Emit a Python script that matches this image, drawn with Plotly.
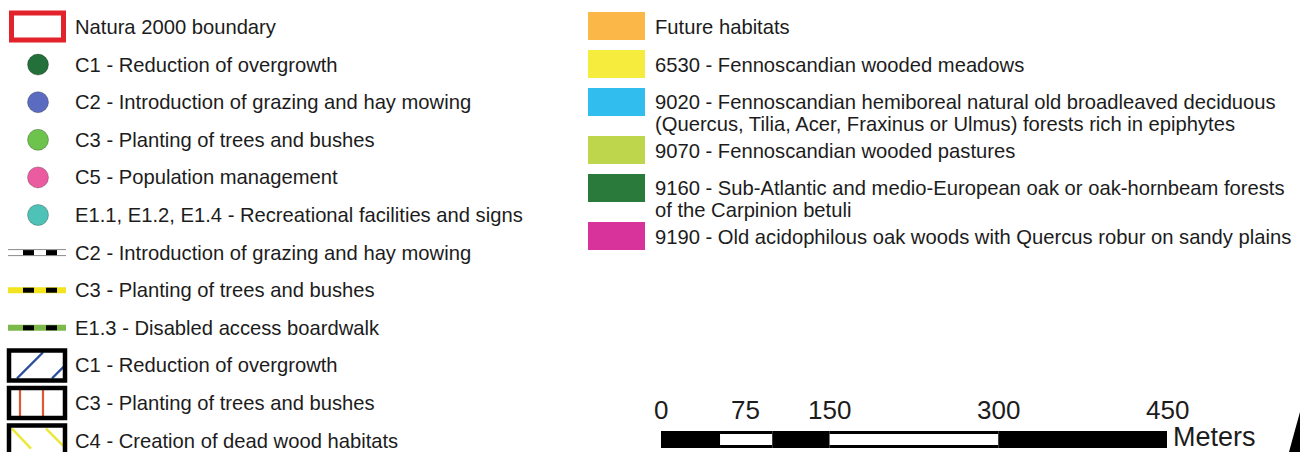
import plotly.graph_objects as go

# ---------------- data ----------------
boundary_label = "Natura 2000 boundary"
boundary_color = "#e2232b"

point_labels = ["C1 - Reduction of overgrowth",
                "C2 - Introduction of grazing and hay mowing",
                "C3 - Planting of trees and bushes",
                "C5 - Population management",
                "E1.1, E1.2, E1.4 - Recreational facilities and signs"]
point_colors = ["#23703a", "#5b6cc0", "#6ec34c", "#ea5ba0", "#4fc2b7"]

line_labels = ["C2 - Introduction of grazing and hay mowing",
               "C3 - Planting of trees and bushes",
               "E1.3 - Disabled access boardwalk"]
line_colors = ["#ffffff", "#f2e51f", "#7cb84a"]

area_labels = ["C1 - Reduction of overgrowth",
               "C3 - Planting of trees and bushes",
               "C4 - Creation of dead wood habitats"]
area_hatch_colors = ["#2d4f9e", "#e2572f", "#ece83a"]

habitat_labels = ["Future habitats",
                  "6530 - Fennoscandian wooded meadows",
                  "9020 - Fennoscandian hemiboreal natural old broadleaved deciduous<br>(Quercus, Tilia, Acer, Fraxinus or Ulmus) forests rich in epiphytes",
                  "9070 - Fennoscandian wooded pastures",
                  "9160 - Sub-Atlantic and medio-European oak or oak-hornbeam forests<br>of the Carpinion betuli",
                  "9190 - Old acidophilous oak woods with Quercus robur on sandy plains"]
habitat_colors = ["#fbb748", "#f6ec3e", "#31bdee", "#bdd64b", "#2a7a3b", "#d8339b"]

scale_ticks = [0, 75, 150, 300, 450]
scale_breaks = [0, 52.5, 99, 150, 300, 450]
scale_unit = "Meters"

# ---------------- layout helpers ----------------
FONT = "Liberation Sans, Arial, Helvetica, sans-serif"
TXT = "#1c1c1c"
FS = 20.2
W, H = 1300, 452
SCALE_X0, SCALE_X450 = 661, 1167  # pixel positions of 0 m and 450 m

fig = go.Figure()
shapes = []
annotations = []

def text(x, y, s, size=FS, xref="x", xanchor="left"):
    annotations.append(dict(x=x, y=y, xref=xref, yref="y", text=s, showarrow=False,
                            xanchor=xanchor, yanchor="middle", borderpad=0,
                            font=dict(family=FONT, size=size, color=TXT)))

# left column rows
row0, dy = 27.0, 37.6
text_x = 74
r = 0
# boundary
cy = row0 + dy * r
shapes.append(dict(type="rect", x0=11.5, x1=63.5, y0=cy - 14, y1=cy + 13,
                   line=dict(color=boundary_color, width=5), fillcolor="white"))
text(text_x, cy, boundary_label)
r += 1

# point symbols
px, py = [], []
for lab, col in zip(point_labels, point_colors):
    cy = row0 + dy * r
    px.append(38); py.append(cy)
    text(text_x, cy, lab)
    r += 1
fig.add_trace(go.Scatter(x=px, y=py, mode="markers", hoverinfo="skip",
                         marker=dict(size=21, color=point_colors,
                                     line=dict(width=1, color="rgba(0,0,0,0.25)"))))

# line symbols
for i, (lab, col) in enumerate(zip(line_labels, line_colors)):
    cy = row0 + dy * r
    if i == 0:
        shapes.append(dict(type="rect", x0=8, x1=66, y0=cy - 3, y1=cy + 3,
                           fillcolor="white", line=dict(width=0)))
        for off in (-3, 3):
            shapes.append(dict(type="line", x0=8, x1=66, y0=cy + off, y1=cy + off,
                               line=dict(color="#8a8a8a", width=1)))
    else:
        shapes.append(dict(type="rect", x0=8, x1=66, y0=cy - 3, y1=cy + 3,
                           fillcolor=col, line=dict(width=0)))
    for d0 in (23, 46):
        shapes.append(dict(type="rect", x0=d0, x1=d0 + 11, y0=cy - 2.5, y1=cy + 2.5,
                           fillcolor="black", line=dict(width=0)))
    text(text_x, cy, lab)
    r += 1

# hatched area symbols
for i, (lab, col) in enumerate(zip(area_labels, area_hatch_colors)):
    cy = row0 + dy * r
    x0, x1, y0, y1 = 9, 65, cy - 15, cy + 15
    shapes.append(dict(type="rect", x0=x0, x1=x1, y0=y0, y1=y1,
                       fillcolor="white", line=dict(width=0)))
    if i == 0:
        segs = [((17, cy + 13), (43, cy - 13)), ((52, cy + 13), (64, cy + 1))]
        w = 2.2
    elif i == 1:
        segs = [((20, y0), (20, y1)), ((43, y0), (43, y1))]
        w = 2.2
    else:
        segs = [((12, cy - 12), (31, cy + 8)), ((46, cy - 12), (64, cy + 6))]
        w = 2.5
    for (a, b) in segs:
        shapes.append(dict(type="line", x0=a[0], y0=a[1], x1=b[0], y1=b[1],
                           line=dict(color=col, width=w)))
    shapes.append(dict(type="rect", x0=x0, x1=x1, y0=y0, y1=y1,
                       line=dict(color="black", width=4.5)))
    text(text_x, cy, lab)
    r += 1

# right column habitats
top = 12
for lab, col in zip(habitat_labels, habitat_colors):
    lines = lab.split("<br>")
    shapes.append(dict(type="rect", x0=588, x1=645, y0=top, y1=top + 28,
                       fillcolor=col, line=dict(width=0)))
    ty = top + (15 if len(lines) == 1 else 13.5)
    for k, ln in enumerate(lines):
        text(654, ty + 22 * k, ln)
    top += 38 if len(lines) == 1 else 48

# scale bar (x2 axis in meters)
for k in range(len(scale_breaks) - 1):
    a, b = scale_breaks[k], scale_breaks[k + 1]
    shapes.append(dict(type="rect", xref="x2", yref="y", x0=a, x1=b, y0=431, y1=448,
                       fillcolor="black", line=dict(width=0)))
    if k % 2 == 1:
        shapes.append(dict(type="rect", xref="x2", yref="y", x0=a, x1=b, y0=434, y1=445,
                           fillcolor="white", line=dict(width=0)))
for t in scale_ticks:
    text(t, 410, str(t), size=26, xref="x2", xanchor="center")
text(scale_breaks[-1] + 4, 437, scale_unit, size=27, xref="x2", xanchor="left")

# partial north arrow at right edge
shapes.append(dict(type="path", path="M 1300 412 Q 1295 430 1289 452 L 1300 452 Z",
                   fillcolor="black", line=dict(width=0)))

m_per_px = scale_ticks[-1] / (SCALE_X450 - SCALE_X0)
fig.update_layout(
    width=W, height=H, margin=dict(l=0, r=0, t=0, b=0),
    paper_bgcolor="white", plot_bgcolor="white", showlegend=False,
    xaxis=dict(range=[0, W], visible=False, domain=[0, 1], fixedrange=True),
    yaxis=dict(range=[H, 0], visible=False, domain=[0, 1], fixedrange=True),
    xaxis2=dict(range=[0, (W - SCALE_X0) * m_per_px], domain=[SCALE_X0 / W, 1],
                anchor="y", visible=False, fixedrange=True),
    shapes=shapes, annotations=annotations,
)
fig.write_html("out.html", config={"displayModeBar": False},
               post_script="document.body.style.margin='0';document.body.style.overflow='hidden';")
